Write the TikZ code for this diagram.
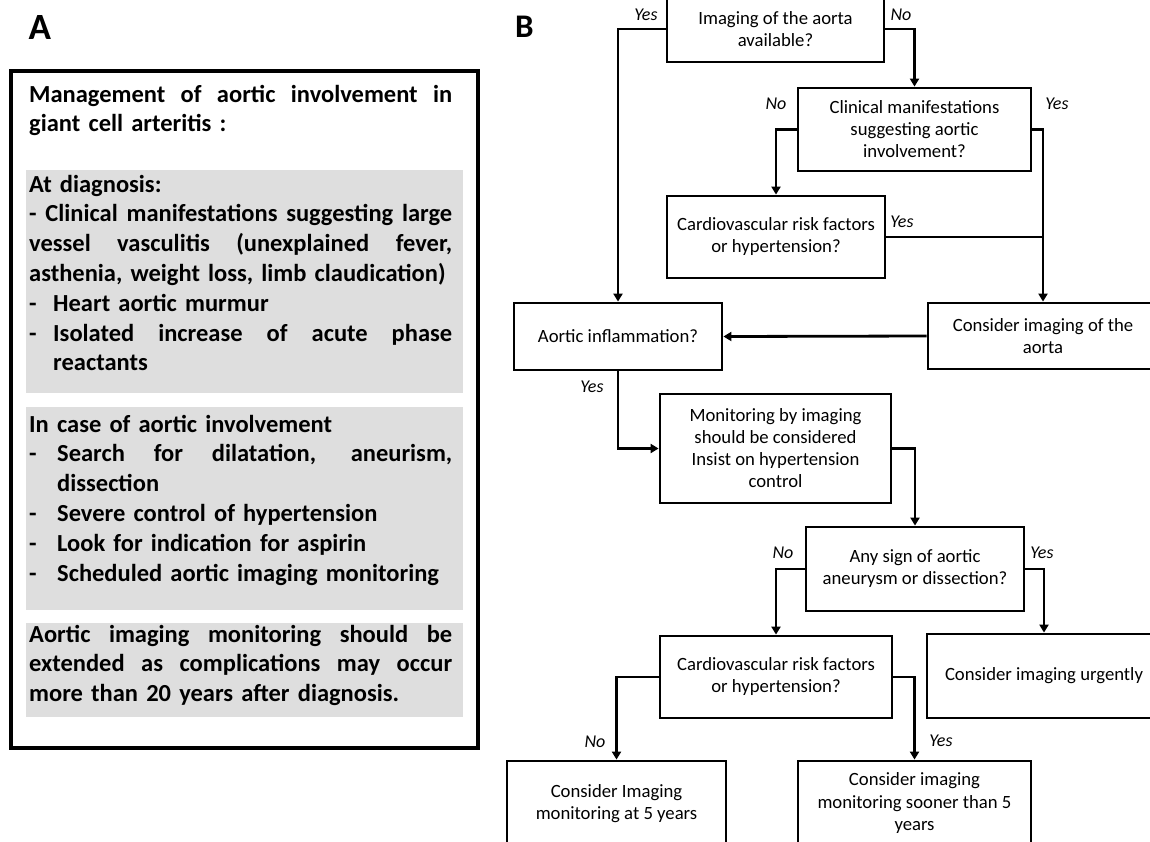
\documentclass[tikz,border=0pt]{standalone}
\usepackage{fontspec}
\setmainfont{Carlito}
\usetikzlibrary{arrows.meta}
\definecolor{panelgray}{HTML}{DEDEDE}
\newcommand\jl[2][423pt]{\hbox to #1{\spaceskip=\fontdimen2\font plus 1fil\relax\xspaceskip=\spaceskip #2}}
\newcommand\dA{\makebox[24pt][l]{-}}
\newcommand\dB{\makebox[28pt][l]{-}}
\tikzset{
  fb/.style 2 args={draw, line width=2.8pt, align=center, inner sep=0pt,
    minimum width=#1, minimum height=#2, font=\fontsize{18.7}{22}\selectfont},
  lbl/.style={inner sep=0pt, font=\itshape\fontsize{18}{20}\selectfont},
  conn/.style={line width=2.8pt},
  arr/.style={conn, -{Triangle[length=8pt,width=9pt]}},
  atext/.style={anchor=north west, inner sep=0pt, text width=423pt, align=left,
    font=\bfseries\fontsize{24.5}{29.8}\selectfont},
}
\begin{document}
\begin{tikzpicture}[x=1pt,y=-1pt]
\clip (0,0) rectangle (1150,841);
\fill[white] (0,0) rectangle (1150,841);

% ---------- Panel A ----------
\node[anchor=base west, inner sep=0pt, font=\bfseries\fontsize{37}{37}\selectfont] (labA) at (28.5,39) {A};
\draw[line width=3.5pt] (11,71) rectangle (478,748);
\fill[panelgray] (26,170) rectangle (463,393);
\fill[panelgray] (26,407) rectangle (463,610);
\fill[panelgray] (26,623) rectangle (463,717);

\node[atext] (titleA) at (29,81.1) {\noindent\strut\jl{Management of aortic involvement in}\\
\strut giant cell arteritis :};

\node[atext] (diag) at (29,171.1) {\noindent\strut At diagnosis:\\
\strut\jl{- Clinical manifestations suggesting large}\\
\strut\jl{vessel vasculitis (unexplained fever,}\\
\strut asthenia, weight loss, limb claudication)\\
\strut\dA Heart aortic murmur\\
\strut\dA\jl[399pt]{Isolated increase of acute phase}\\
\strut\hspace*{24pt}reactants};

\node[atext] (invol) at (29,411.1) {\noindent\strut In case of aortic involvement\\
\strut\dB\jl[395pt]{Search for dilatation, aneurism,}\\
\strut\hspace*{28pt}dissection\\
\strut\dB Severe control of hypertension\\
\strut\dB Look for indication for aspirin\\
\strut\dB Scheduled aortic imaging monitoring};

\node[atext] (extend) at (29,621.1) {\noindent\strut\jl{Aortic imaging monitoring should be}\\
\strut\jl{extended as complications may occur}\\
\strut more than 20 years after diagnosis.};

% ---------- Panel B ----------
\node[anchor=base west, inner sep=0pt, font=\bfseries\fontsize{33}{33}\selectfont] (labB) at (515,37) {B};

\node[fb={217pt}{66pt}] (q1) at (775.5,29) {Imaging of the aorta\\available?};
\node[fb={233pt}{83pt}] (q2) at (914.5,129.5) {Clinical manifestations\\suggesting aortic\\involvement?};
\node[fb={218pt}{82pt}] (q3) at (776,237) {Cardiovascular risk factors\\or hypertension?};
\node[fb={208pt}{67pt}] (a1) at (618,336.5) {Aortic inflammation?};
\node[fb={230pt}{66pt}] (c1) at (1043,336) {Consider imaging of the\\aorta};
\node[fb={231pt}{109pt}] (m1) at (775.5,448.5) {Monitoring by imaging\\should be considered\\Insist on hypertension\\control};
\node[fb={218pt}{84pt}] (s1) at (915,569) {Any sign of aortic\\aneurysm or dissection?};
\node[fb={232pt}{82pt}] (cv2) at (776,677) {Cardiovascular risk factors\\or hypertension?};
\node[fb={234pt}{84pt}] (u1) at (1044,676) {Consider imaging urgently};
\node[fb={219pt}{86pt}] (f5) at (616.5,804) {Consider Imaging\\monitoring at 5 years};
\node[fb={233pt}{84pt}] (so) at (914.5,803) {Consider imaging\\monitoring sooner than 5\\years};

\draw[arr] (q1.west) -| (a1.north);
\draw[arr] (q1.east) -| (q2.north);
\draw[arr] (q2.west) -| (q3.north);
\draw[arr] (q2.east) -| (c1.north);
\coordinate (j1) at (c1.north |- q3.east);
\draw[conn] (q3.east) -- (j1);
\draw[arr] (c1.west) -- (a1.east);
\draw[arr] (a1.south) |- (m1.west);
\draw[arr] (m1.east) -| (s1.north);
\draw[arr] (s1.west) -| (cv2.north);
\draw[arr] (s1.east) -| (u1.north);
\draw[arr] (cv2.west) -| (f5.north);
\draw[arr] (cv2.east) -| (so.north);

\node[lbl] (l1) at (646,15) {Yes};
\node[lbl] (l2) at (901,15) {No};
\node[lbl] (l3) at (776,104) {No};
\node[lbl] (l4) at (1057,104) {Yes};
\node[lbl] (l5) at (902,222) {Yes};
\node[lbl] (l6) at (592,387) {Yes};
\node[lbl] (l7) at (783,553) {No};
\node[lbl] (l8) at (1042,553) {Yes};
\node[lbl] (l9) at (595,742) {No};
\node[lbl] (l10) at (941,741) {Yes};
\end{tikzpicture}
\end{document}
